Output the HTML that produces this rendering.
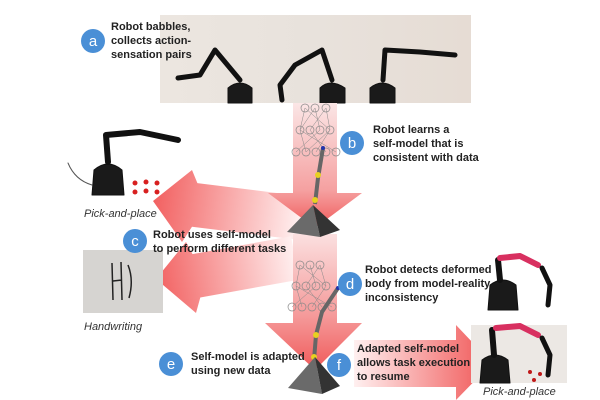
<!DOCTYPE html>
<html><head><meta charset="utf-8"><style>
html,body{margin:0;padding:0;background:#fff;}
svg{display:block;}
text{font-family:"Liberation Sans",Arial,sans-serif;}
.t{font-size:11px;font-weight:bold;fill:#222;}
.i{font-size:11px;font-style:italic;fill:#333;}
.c{fill:#4a8fd6;}
.cl{font-size:15px;fill:#fff;text-anchor:middle;}
.nn circle{fill:none;stroke:#888;stroke-width:0.7;}
.nn line{stroke:#888;stroke-width:0.5;}
.rb{fill:none;stroke:#111;stroke-linecap:round;stroke-linejoin:round;}
</style></head><body>
<svg width="600" height="400" viewBox="0 0 600 400" xmlns="http://www.w3.org/2000/svg">
<defs>
<linearGradient id="gv" x1="0" y1="0" x2="0" y2="1"><stop offset="0" stop-color="#fbe6e6"/><stop offset="0.7" stop-color="#f5a0a0"/><stop offset="1" stop-color="#f05a5a"/></linearGradient>
<linearGradient id="gv2" x1="0" y1="0" x2="0" y2="1"><stop offset="0" stop-color="#fbe0e0"/><stop offset="0.6" stop-color="#f59a9a"/><stop offset="1" stop-color="#f05a5a"/></linearGradient>
<linearGradient id="ga1" gradientUnits="userSpaceOnUse" x1="300" y1="218" x2="155" y2="200"><stop offset="0" stop-color="#fff0f0"/><stop offset="1" stop-color="#f26262"/></linearGradient>
<linearGradient id="ga2" gradientUnits="userSpaceOnUse" x1="295" y1="258" x2="157" y2="283"><stop offset="0" stop-color="#fff0f0"/><stop offset="1" stop-color="#f26262"/></linearGradient>
<linearGradient id="gr" gradientUnits="userSpaceOnUse" x1="354" y1="0" x2="492" y2="0"><stop offset="0" stop-color="#fff0f0"/><stop offset="1" stop-color="#f05555"/></linearGradient>
<linearGradient id="gp" x1="0" y1="0" x2="1" y2="0"><stop offset="0" stop-color="#ece6e0"/><stop offset="0.5" stop-color="#e8e2dc"/><stop offset="1" stop-color="#e6dcd4"/></linearGradient>
</defs>

<rect x="160" y="15" width="311" height="88" fill="url(#gp)"/>
<g class="rb">
 <path d="M228 103 L228 88 Q240 78 252 88 L252 103 Z" fill="#1a1a1a"/>
 <path d="M240 80 L215 50 L200 75 L178 78" stroke-width="5"/>
 <path d="M320 103 L320 88 Q330 78 345 88 L345 103 Z" fill="#1a1a1a"/>
 <path d="M332 80 L322 50 L295 65 L280 85 L282 100" stroke-width="5"/>
 <path d="M370 103 L370 88 Q382 78 395 88 L395 103 Z" fill="#1a1a1a"/>
 <path d="M383 80 L385 50 L420 52 L455 55" stroke-width="5"/>
</g>

<polygon points="302.7,196.2 197.4,183.1 192,170 153,201 182,242 192,226.7 297.3,239.8" fill="url(#ga1)"/>
<polygon points="291.1,236.3 192.5,254.1 186,242 156,279 196,313 200.3,297.5 298.9,279.7" fill="url(#ga2)"/>

<polygon points="293,103 337,103 337,193 362,193 315,228 268,193 293,193" fill="url(#gv)"/>
<polygon points="293,234 337,234 337,323 362,323 315,370 265,323 293,323" fill="url(#gv2)"/>
<polygon points="354,340 456,340 456,325 492,363 456,400 456,387 354,387" fill="url(#gr)"/>

<g class="nn">
 <line x1="305" y1="108" x2="300" y2="130"/><line x1="315" y1="108" x2="320" y2="130"/><line x1="326" y1="108" x2="310" y2="130"/><line x1="305" y1="108" x2="330" y2="130"/><line x1="315" y1="108" x2="300" y2="130"/><line x1="326" y1="108" x2="330" y2="130"/>
 <line x1="300" y1="130" x2="306" y2="152"/><line x1="310" y1="130" x2="326" y2="152"/><line x1="320" y1="130" x2="296" y2="152"/><line x1="330" y1="130" x2="316" y2="152"/><line x1="300" y1="130" x2="336" y2="152"/><line x1="330" y1="130" x2="306" y2="152"/>
 <circle cx="305" cy="108" r="4"/><circle cx="315" cy="108" r="4"/><circle cx="326" cy="108" r="4"/>
 <circle cx="300" cy="130" r="4"/><circle cx="310" cy="130" r="4"/><circle cx="320" cy="130" r="4"/><circle cx="330" cy="130" r="4"/>
 <circle cx="296" cy="152" r="4"/><circle cx="306" cy="152" r="4"/><circle cx="316" cy="152" r="4"/><circle cx="326" cy="152" r="4"/><circle cx="336" cy="152" r="4"/>
</g>
<path d="M323 148 L318 178 L315 204" stroke="#666" stroke-width="4" fill="none"/>
<circle cx="323" cy="148" r="2" fill="#2233aa"/>
<circle cx="318" cy="175" r="3" fill="#e8d020"/><circle cx="315" cy="200" r="3" fill="#e8d020"/>
<polygon points="313,205 287,232 320,237" fill="#6a6a6a"/><polygon points="313,205 320,237 340,230" fill="#333"/>

<g class="nn">
 <line x1="300" y1="265" x2="296" y2="286"/><line x1="310" y1="265" x2="316" y2="286"/><line x1="320" y1="265" x2="306" y2="286"/><line x1="300" y1="265" x2="326" y2="286"/><line x1="320" y1="265" x2="326" y2="286"/>
 <line x1="296" y1="286" x2="302" y2="307"/><line x1="306" y1="286" x2="322" y2="307"/><line x1="316" y1="286" x2="292" y2="307"/><line x1="326" y1="286" x2="312" y2="307"/><line x1="296" y1="286" x2="332" y2="307"/>
 <circle cx="300" cy="265" r="4"/><circle cx="310" cy="265" r="4"/><circle cx="320" cy="265" r="4"/>
 <circle cx="296" cy="286" r="4"/><circle cx="306" cy="286" r="4"/><circle cx="316" cy="286" r="4"/><circle cx="326" cy="286" r="4"/>
 <circle cx="292" cy="307" r="4"/><circle cx="302" cy="307" r="4"/><circle cx="312" cy="307" r="4"/><circle cx="322" cy="307" r="4"/><circle cx="332" cy="307" r="4"/>
</g>
<path d="M338 288 L322 312 L316 335 L314 360" stroke="#666" stroke-width="4" fill="none"/>
<circle cx="338" cy="288" r="2" fill="#2233aa"/>
<circle cx="316" cy="335" r="3" fill="#e8d020"/><circle cx="314" cy="357" r="3" fill="#e8d020"/>
<polygon points="315,357 288,388 322,394 " fill="#6a6a6a"/><polygon points="315,357 322,394 340,386" fill="#333"/>

<g class="rb">
 <path d="M92 195 L94 170 Q108 158 122 170 L124 195 Z" fill="#1a1a1a"/>
 <path d="M108 162 L106 135 L140 132 L178 140" stroke-width="6"/>
 <path d="M92 185 Q75 180 68 163" stroke-width="1" stroke="#555"/>
</g>
<g fill="#d82020"><circle cx="135" cy="183" r="2.5"/><circle cx="146" cy="182" r="2.5"/><circle cx="157" cy="183" r="2.5"/><circle cx="135" cy="192" r="2.5"/><circle cx="146" cy="191" r="2.5"/><circle cx="157" cy="192" r="2.5"/></g>
<text class="i" x="84" y="217">Pick-and-place</text>

<rect x="83" y="250" width="80" height="63" fill="#d6d4d1"/>
<path d="M112 263 L113 300 M113 281 L122 280 M121 262 L122 300 M128 265 Q134 280 129 298" stroke="#222" stroke-width="1.5" fill="none"/>
<text class="i" x="84" y="330">Handwriting</text>

<g class="rb">
 <path d="M488 310 L490 285 Q503 275 516 285 L518 310 Z" fill="#1a1a1a"/>
 <path d="M500 280 L498 260" stroke-width="6"/>
 <path d="M500 258 L520 256 L538 265" stroke-width="6" stroke="#d83060"/>
 <path d="M542 268 L550 285 L548 305" stroke-width="5"/>
</g>
<rect x="471" y="325" width="96" height="58" fill="#ece8e4"/>
<g class="rb">
 <path d="M480 383 L482 360 Q495 350 508 360 L510 383 Z" fill="#1a1a1a"/>
 <path d="M494 355 L492 330" stroke-width="6"/>
 <path d="M496 328 L520 326 L538 335" stroke-width="6" stroke="#d83060"/>
 <path d="M542 338 L550 355 L548 375" stroke-width="5"/>
</g>
<g fill="#c01818"><circle cx="530" cy="372" r="2"/><circle cx="540" cy="374" r="2"/><circle cx="534" cy="380" r="2"/></g>
<text class="i" x="483" y="395">Pick-and-place</text>

<circle class="c" cx="93" cy="41" r="12"/><text class="cl" x="93" y="46">a</text>
<text class="t" x="111" y="30">Robot babbles,</text>
<text class="t" x="111" y="44">collects action-</text>
<text class="t" x="111" y="58">sensation pairs</text>

<circle class="c" cx="352" cy="143" r="12"/><text class="cl" x="352" y="148">b</text>
<text class="t" x="373" y="133">Robot learns a</text>
<text class="t" x="373" y="147">self-model that is</text>
<text class="t" x="373" y="161">consistent with data</text>

<circle class="c" cx="135" cy="241" r="12"/><text class="cl" x="135" y="246">c</text>
<text class="t" x="153" y="238">Robot uses self-model</text>
<text class="t" x="153" y="252">to perform different tasks</text>

<circle class="c" cx="350" cy="284" r="12"/><text class="cl" x="350" y="289">d</text>
<text class="t" x="365" y="273">Robot detects deformed</text>
<text class="t" x="365" y="287">body from model-reality</text>
<text class="t" x="365" y="301">inconsistency</text>

<circle class="c" cx="171" cy="364" r="12"/><text class="cl" x="171" y="369">e</text>
<text class="t" x="191" y="360">Self-model is adapted</text>
<text class="t" x="191" y="374">using new data</text>

<circle class="c" cx="339" cy="365" r="12"/><text class="cl" x="339" y="370">f</text>
<text class="t" x="357" y="352">Adapted self-model</text>
<text class="t" x="357" y="366">allows task execution</text>
<text class="t" x="357" y="380">to resume</text>
</svg>
</body></html>
